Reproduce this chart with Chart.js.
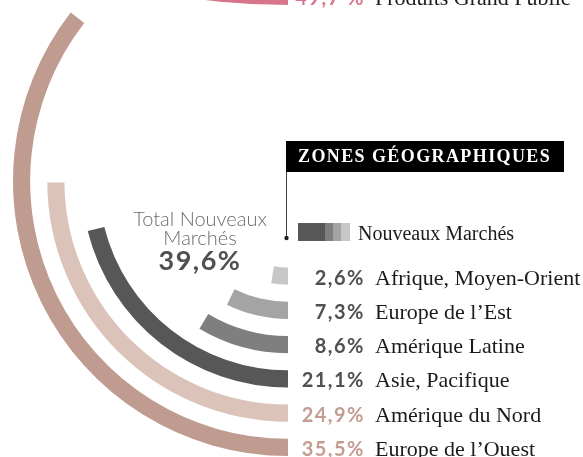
<!DOCTYPE html>
<html>
<head>
<meta charset="utf-8">
<script src="https://cdn.jsdelivr.net/npm/chart.js@4.4.1/dist/chart.umd.min.js"></script>
<style>
  html, body { margin: 0; padding: 0; background: #fff; overflow: hidden; }
  #wrap { position: relative; width: 583px; height: 457px; overflow: hidden; }
  #top { position: absolute; left: -412px; top: -1395px; }
  #main { position: absolute; left: 0; top: -97px; }
</style>
</head>
<body>
<div id="wrap">
  <canvas id="top" width="1400" height="1400"></canvas>
  <canvas id="main" width="583" height="650"></canvas>
</div>
<script>
// data
const regions = ['Afrique, Moyen-Orient', 'Europe de l\u2019Est', 'Amérique Latine', 'Asie, Pacifique', 'Amérique du Nord', 'Europe de l\u2019Ouest'];
const shares = [2.6, 7.3, 8.6, 21.1, 24.9, 35.5];
const isNewMarket = [true, true, true, true, false, false];
const totalNew = 39.6;
const topLabel = 'Produits Grand Public';
const topShare = 49.7;
const legendLabel = 'Nouveaux Marchés';
const title = 'ZONES GÉOGRAPHIQUES';

// styles
const ringColors = ['#c7c7c7', '#a4a4a4', '#7f7f7f', '#575757', '#dcc3ba', '#bf9b90'];
const pinkColor = '#d9758b';
const OFFSET = 97; // main canvas sits 97px above the page top
const TOP_CANVAS_TOP = -1395;

const fmt = v => v.toFixed(1).replace('.', ',') + '%';
const clear = 'rgba(0,0,0,0)';

// upper chart, only its lowest ring shows at the top edge
const topChart = new Chart(document.getElementById('top'), {
  type: 'doughnut',
  data: {
    datasets: [{
      data: [topShare, 100 - topShare],
      backgroundColor: [pinkColor, clear],
      borderWidth: 0
    }]
  },
  options: {
    responsive: false,
    devicePixelRatio: 1,
    animation: false,
    events: [],
    rotation: 180,
    cutout: 683,
    layout: { padding: 0 },
    plugins: { legend: { display: false }, tooltip: { enabled: false } }
  }
});

// rings, outermost first, with empty spacer rings in between
const datasets = [];
for (let i = regions.length - 1; i >= 0; i--) {
  datasets.push({
    data: [shares[i], 100 - shares[i]],
    backgroundColor: [ringColors[i], clear],
    borderWidth: 0,
    row: i
  });
  if (i > 0) datasets.push({ data: [100], backgroundColor: [clear], borderWidth: 0 });
}

const texts = {
  id: 'texts',
  afterDraw(chart) {
    const ctx = chart.ctx;
    ctx.save();
    ctx.translate(0, OFFSET);
    ctx.textBaseline = 'alphabetic';

    // row labels, baseline on the bottom edge of each ring
    chart.data.datasets.forEach((ds, k) => {
      if (ds.row === undefined) return;
      const i = ds.row;
      const arc = chart.getDatasetMeta(k).data[0];
      const base = arc.y + arc.outerRadius - OFFSET;
      ctx.font = '700 20px Lato';
      ctx.letterSpacing = '1.5px';
      ctx.textAlign = 'right';
      ctx.fillStyle = isNewMarket[i] ? '#505050' : '#c39c92';
      ctx.fillText(fmt(shares[i]), 365, base);
      ctx.letterSpacing = '0px';
      ctx.font = '22px "Liberation Serif"';
      ctx.textAlign = 'left';
      ctx.fillStyle = '#1b1b1b';
      ctx.fillText(regions[i], 375, base);
    });

    // row of the upper chart
    const tArc = topChart.getDatasetMeta(0).data[0];
    const tBase = tArc.y + tArc.outerRadius + TOP_CANVAS_TOP;
    ctx.font = '700 20px Lato';
    ctx.letterSpacing = '1.5px';
    ctx.textAlign = 'right';
    ctx.fillStyle = pinkColor;
    ctx.fillText(topShare.toFixed(1).replace('.', ',') + ' %', 365, tBase);
    ctx.letterSpacing = '0px';
    ctx.font = '22px "Liberation Serif"';
    ctx.textAlign = 'left';
    ctx.fillStyle = '#1b1b1b';
    ctx.fillText(topLabel, 375, tBase);

    // title box
    ctx.fillStyle = '#000';
    ctx.fillRect(286, 141, 278, 31);
    ctx.fillStyle = '#fff';
    ctx.font = '700 18px "Liberation Serif"';
    ctx.letterSpacing = '1.4px';
    ctx.fillText(title, 298, 162);
    ctx.letterSpacing = '0px';

    // pointer line
    ctx.strokeStyle = '#444';
    ctx.lineWidth = 1;
    ctx.beginPath();
    ctx.moveTo(286.5, 172);
    ctx.lineTo(286.5, 238);
    ctx.stroke();
    ctx.fillStyle = '#222';
    ctx.beginPath();
    ctx.arc(286.5, 238, 2.2, 0, Math.PI * 2);
    ctx.fill();

    // legend swatch
    const sw = [[298, 27, 3], [325, 8, 2], [333, 8, 1], [341, 9, 0]];
    sw.forEach(([x, w, c]) => {
      ctx.fillStyle = ringColors[c];
      ctx.fillRect(x, 223, w, 18);
    });
    ctx.fillStyle = '#1b1b1b';
    ctx.font = '20px "Liberation Serif"';
    ctx.fillText(legendLabel, 358, 240);

    // centre total
    ctx.textAlign = 'center';
    ctx.fillStyle = '#6b6b6b';
    ctx.font = '300 20px Lato';
    ctx.fillText('Total Nouveaux', 200, 226);
    ctx.fillText('Marchés', 200, 245);
    ctx.fillStyle = '#505050';
    ctx.font = '700 27px Lato';
    ctx.letterSpacing = '1.5px';
    ctx.fillText(fmt(totalNew), 200, 270);
    ctx.restore();
  }
};

new Chart(document.getElementById('main'), {
  type: 'doughnut',
  data: { datasets },
  options: {
    responsive: false,
    devicePixelRatio: 1,
    animation: false,
    events: [],
    rotation: 180,
    cutout: 86.5,
    layout: { padding: { left: 13, right: 20, top: 3, bottom: 97 } },
    plugins: { legend: { display: false }, tooltip: { enabled: false } }
  },
  plugins: [texts]
});
</script>
</body>
</html>
